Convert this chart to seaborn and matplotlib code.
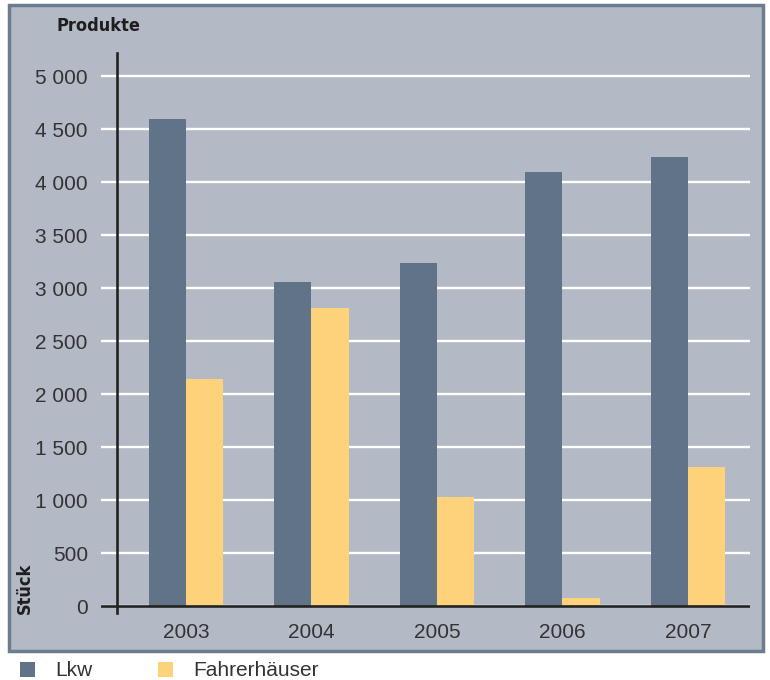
import matplotlib
matplotlib.use("Agg")
import matplotlib.pyplot as plt
from matplotlib.patches import Rectangle
import seaborn as sns
import pandas as pd

# Production figures per year
years = ["2003", "2004", "2005", "2006", "2007"]
lkw = [4590, 3060, 3240, 4090, 4240]
fahrerhaeuser = [2140, 2810, 1030, 75, 1310]
series_names = ["Lkw", "Fahrerhäuser"]
y_ticks = [0, 500, 1000, 1500, 2000, 2500, 3000, 3500, 4000, 4500, 5000]
y_tick_labels = ["0", "500", "1 000", "1 500", "2 000", "2 500",
                 "3 000", "3 500", "4 000", "4 500", "5 000"]

df = pd.DataFrame({
    "Jahr": years * 2,
    "Stück": lkw + fahrerhaeuser,
    "Produkt": [series_names[0]] * len(years) + [series_names[1]] * len(years),
})

BG = "#b3bac5"
FRAME = "#6a7c8e"
C_LKW = "#617386"
C_FAHR = "#fed27b"
TXT = "#333333"
W, H = 770, 680

sns.set_theme(style="white")
plt.rcParams["font.family"] = ["Liberation Sans", "DejaVu Sans"]

fig = plt.figure(figsize=(W / 100, H / 100), dpi=100)
fig.patch.set_facecolor("white")

# framed panel behind the chart
fig.patches.append(Rectangle((9 / W, 1 - 651 / H), (763 - 9) / W, (651 - 5) / H,
                             transform=fig.transFigure, facecolor=BG,
                             edgecolor=FRAME, linewidth=2.5, zorder=-10))

ax = fig.add_axes([101 / W, 1 - 613 / H, (750 - 101) / W, (613 - 53) / H])
ax.set_facecolor("none")
ax.set_zorder(2)

sns.barplot(data=df, x="Jahr", y="Stück", hue="Produkt", ax=ax,
            palette=[C_LKW, C_FAHR], width=0.59, gap=0, saturation=1,
            linewidth=0, zorder=2)

ax.set_xlim(-0.677, 4.494)
ax.set_ylim(-66, 5217)
ax.set_yticks(y_ticks)
ax.set_yticklabels(y_tick_labels)
ax.set_xlabel("")
ax.set_ylabel("")

ax.set_axisbelow(True)
ax.yaxis.grid(True, color="white", linewidth=1.7)
ax.xaxis.grid(False)

for side in ("top", "right", "bottom"):
    ax.spines[side].set_visible(False)
ax.spines["left"].set_position(("axes", 16 / 649))
ax.spines["left"].set_color("#222222")
ax.spines["left"].set_linewidth(1.9)
ax.spines["left"].set_zorder(5)
ax.axhline(0, color="#222222", linewidth=1.9, zorder=5)

ax.tick_params(axis="y", length=0, pad=21, labelsize=15, labelcolor=TXT)
ax.tick_params(axis="x", length=0, pad=7, labelsize=15, labelcolor=TXT)
for lab in ax.get_yticklabels():
    lab.set_verticalalignment("center_baseline")

handles, labels = ax.get_legend_handles_labels()
ax.get_legend().remove()
fig.legend(handles, labels, loc="center left",
           bbox_to_anchor=(20 / W, 1 - 671 / H), ncol=2, frameon=False,
           handlelength=0.73, handleheight=0.73, handletextpad=0.95,
           columnspacing=3.15, borderpad=0, borderaxespad=0,
           prop={"size": 15}, labelcolor=TXT)

bold = dict(family=["DejaVu Sans"], weight="bold", stretch="condensed",
            size=13, color="#1e1e1e")
fig.text(57 / W, 1 - 26 / H, "Produkte", ha="left", va="center", **bold)
fig.text(25 / W, 1 - 588 / H, "Stück", ha="center", va="center",
         rotation=90, **bold)

fig.savefig("out.png", dpi=100)
